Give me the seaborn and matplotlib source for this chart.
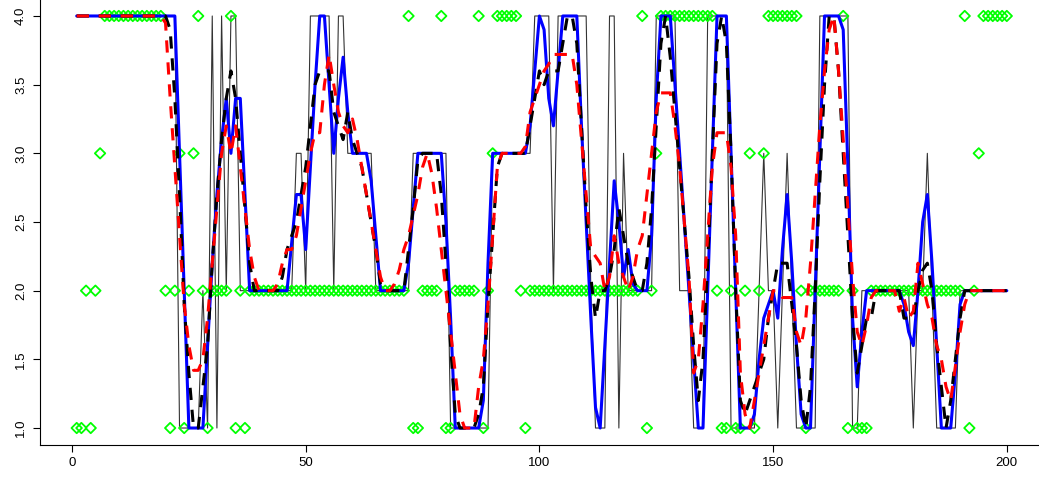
import numpy as np
import pandas as pd
import matplotlib
matplotlib.use("Agg")
import matplotlib.pyplot as plt
import seaborn as sns

# ---- data (x = 1..200) ----
x_index = list(range(1, 201))

green_obs = [1,1,2,1,2,3,4,4,4,4, 4,4,4,4,4,4,4,4,4,2,
             1,2,3,1,2,3,4,2,1,2, 2,2,2,4,1,2,1,2,2,2,
             2,2,2,2,2,2,2,2,2,2, 2,2,2,2,2,2,2,2,2,2,
             2,2,2,2,2,2,2,2,2,2, 2,4,1,1,2,2,2,2,4,1,
             1,2,2,2,2,2,4,1,2,3, 4,4,4,4,4,2,1,2,2,2,
             2,2,2,2,2,2,2,2,2,2, 2,2,2,2,2,2,2,2,2,2,
             2,4,1,2,3,4,4,4,4,4, 4,4,4,4,4,4,4,2,1,1,
             2,1,1,2,3,1,2,3,4,4, 4,4,4,4,4,2,1,2,2,2,
             2,2,2,2,4,1,2,1,1,1, 2,2,2,2,2,2,2,2,2,2,
             2,2,2,2,2,2,2,2,2,2, 4,1,2,3,4,4,4,4,4,4]

thin_state = [4,4,4,4,4,4,4,4,4,4, 4,4,4,4,4,4,4,4,4,4,
              4,4,1,1,1,1,1,2,1,4, 1,4,2,4,4,2,2,2,2,2,
              2,2,2,2,2,2,2,3,3,2, 4,4,4,4,4,2,4,4,3,3,
              3,3,3,3,2,2,2,2,2,2, 2,2,3,3,3,3,3,3,3,3,
              1,1,1,1,1,1,1,1,1,3, 3,3,3,3,3,3,3,3,4,4,
              4,4,2,4,4,4,4,4,4,4, 2,1,1,1,4,4,1,3,2,2,
              2,2,2,2,4,4,4,4,4,2, 2,2,1,1,1,4,4,4,4,4,
              1,1,1,1,1,1,2,3,2,2, 1,2,3,2,1,1,1,1,1,4,
              4,4,4,4,4,4,1,1,2,2, 2,2,2,2,2,2,2,2,2,1,
              2,2,3,2,1,1,1,1,1,2, 2,2,2,2,2,2,2,2,2,2]

blue_est = [4,4,4,4,4,4,4,4,4,4, 4,4,4,4,4,4,4,4,4,4,
            4,4,3,2,1,1,1,1,1.6,2.2, 2.7,3.1,3.4,3.0,3.4,3.4,2.7,2.0,2,2,
            2,2,2,2,2,2.0,2.35,2.7,2.7,2.3, 2.9,3.5,4,4,3.5,3.0,3.4,3.7,3.3,3.0,
            3.0,3.0,3.0,2.8,2.4,2.0,2,2,2,2, 2,2.2,2.6,3.0,3,3,3,3,3,2.5,
            1.8,1,1,1,1,1,1,1.2,2.2,3, 3,3,3,3,3,3,3,3.2,3.6,4,
            3.9,3.4,3.2,3.6,4,4,4,4,3.2,2.5, 1.8,1.15,1.0,1.6,2.2,2.8,2.5,2.1,2.3,2.05,
            2,2,2,2.4,3.4,4,4,4,3.5,3.0, 2.5,2.0,1.5,1,1,2,3,4,4,4,
            3,2,1,1,1,1.1,1.5,1.8,1.9,2.0, 1.8,2.3,2.7,2.2,1.6,1.1,1,1,2.0,3.0,
            4,4,4,4,3.9,2.9,1.8,1.3,1.7,2, 2,2,2,2,2,2,2,1.9,1.7,1.6,
            2.0,2.5,2.7,2.2,1.6,1.0,1.0,1.0,1.4,1.9, 2,2,2,2,2,2,2,2,2,2]

black_est = [4,4,4,4,4,4,4,4,4,4, 4,4,4,4,4,4,4,4,4,4,
             3.9,3.4,2.7,1.9,1.4,1.0,1.0,1.3,1.6,2.2, 2.7,3.1,3.4,3.6,3.4,3.0,2.6,2.2,2.0,2.0,
             2,2,2,2,2.1,2.3,2.4,2.5,2.7,2.9, 3.2,3.5,3.6,3.6,3.6,3.3,3.2,3.1,3.3,3.1,
             3.0,2.9,2.7,2.5,2.3,2.05,2,2,2,2, 2.0,2.3,2.6,2.95,3,3,3,3,2.7,2.2,
             1.6,1.1,1,1,1,1,1.1,1.3,1.9,2.4, 2.9,3,3,3,3,3,3,3.2,3.4,3.6,
             3.5,3.6,3.6,3.6,3.8,4,4,3.8,3.2,2.6, 2.1,1.8,2.0,2.0,2.1,2.3,2.6,2.4,2.2,2.1,
             2.0,2,2.2,2.6,3.2,3.8,4,3.7,3.3,2.9, 2.5,2.1,1.6,1.2,1.5,2.2,3.0,3.8,4,3.8,
             3.0,2.0,1.2,1.1,1.2,1.3,1.4,1.5,1.8,2.0, 2.2,2.2,2.2,1.9,1.6,1.2,1.0,1.3,2.0,2.8,
             3.5,4,4,3.6,3.0,2.4,1.8,1.4,1.6,1.8, 1.8,2,2,2,2,2,2,1.8,1.8,1.8,
             2.0,2.15,2.2,2.0,1.6,1.3,1.0,1.2,1.5,1.8, 2,2,2,2,2,2,2,2,2,2]

red_est = [4,4,4,4,4,4,4,4,4,4, 4,4,4,4,4,4,4,4,4,3.95,
           3.4,2.9,2.4,1.9,1.6,1.42,1.42,1.5,1.8,2.2, 2.6,3.0,3.2,3.0,3.2,2.9,2.6,2.3,2.1,2.0,
           2,2,2,2.05,2.2,2.3,2.3,2.4,2.6,2.8, 3.0,3.15,3.15,3.5,3.72,3.5,3.3,3.2,3.15,3.25,
           3.1,2.9,2.7,2.5,2.3,2.1,2.0,2.0,2.05,2.15, 2.3,2.4,2.55,2.7,2.9,3.0,2.85,2.6,2.3,2.0,
           1.7,1.4,1.1,1.0,1.0,1.0,1.3,1.5,1.9,2.4, 2.9,3,3,3,3,3,3.05,3.3,3.4,3.5,
           3.6,3.65,3.72,3.72,3.72,3.72,3.72,3.5,3.1,2.7, 2.3,2.25,2.2,2.0,2.1,2.4,2.2,2.1,2.0,2.1,
           2.3,2.4,2.7,3.0,3.3,3.44,3.44,3.44,3.2,2.9, 2.5,2.1,1.4,1.5,1.9,2.4,2.9,3.15,3.15,3.15,
           2.9,2.4,1.4,1.1,1.0,1.2,1.4,1.6,1.8,2.0, 2.0,1.95,1.95,1.95,1.7,1.6,1.8,2.2,2.7,3.2,
           3.6,3.9,4,3.6,3.1,2.6,2.1,1.7,1.6,1.75, 1.95,2,2,2,2,2,1.85,1.95,1.8,1.85,
           2.2,2.05,1.9,1.8,1.6,1.5,1.3,1.2,1.45,1.7, 1.9,2,2,2,2,2,2,2,2,2]

x_ticks = [0, 50, 100, 150, 200]
y_ticks = [1.0, 1.5, 2.0, 2.5, 3.0, 3.5, 4.0]
y_tick_labels = ["1.0", "1.5", "2.0", "2.5", "3.0", "3.5", "4.0"]

df = pd.DataFrame({"x": x_index, "obs": green_obs, "state": thin_state,
                   "blue": blue_est, "black": black_est, "red": red_est})

sns.set_style("ticks")
plt.rcParams['font.family'] = ['Liberation Sans', 'DejaVu Sans']

W, H = 1039, 484
fig = plt.figure(figsize=(W / 100, H / 100), dpi=100)
ax = fig.add_axes([39.5 / W, (H - 444.5) / H, (1044 - 39.5) / W, 445 / H])

sns.lineplot(data=df, x="x", y="state", ax=ax, color="black", lw=0.8, alpha=0.8, zorder=2)
sns.scatterplot(data=df, x="x", y="obs", ax=ax, marker="D", s=28,
                facecolor="none", edgecolor="#00ff00", linewidth=1.3, zorder=3)
sns.lineplot(data=df, x="x", y="blue", ax=ax, color="#0000ff", lw=2.2, zorder=4)
sns.lineplot(data=df, x="x", y="black", ax=ax, color="black", lw=2.2,
             linestyle=(0, (4, 3.2)), zorder=5)
sns.lineplot(data=df, x="x", y="red", ax=ax, color="#ff0000", lw=2.2,
             linestyle=(0, (4, 3.2)), zorder=6)

ax.set_xlim(-6.96, 207.96)
ax.set_ylim(0.88, 4.12)
ax.set_xticks(x_ticks)
ax.set_xticklabels([str(v) for v in x_ticks])
ax.set_yticks(y_ticks)
ax.set_yticklabels(y_tick_labels, rotation=90, va="center")
ax.set_xlabel("")
ax.set_ylabel("")
ax.spines["top"].set_visible(False)
ax.spines["right"].set_visible(False)
for s in ("left", "bottom"):
    ax.spines[s].set_linewidth(0.8)
    ax.spines[s].set_color("black")
ax.tick_params(axis="both", length=5, width=0.8, colors="black", labelsize=9.5, pad=4)

fig.savefig("out.png", dpi=100)
